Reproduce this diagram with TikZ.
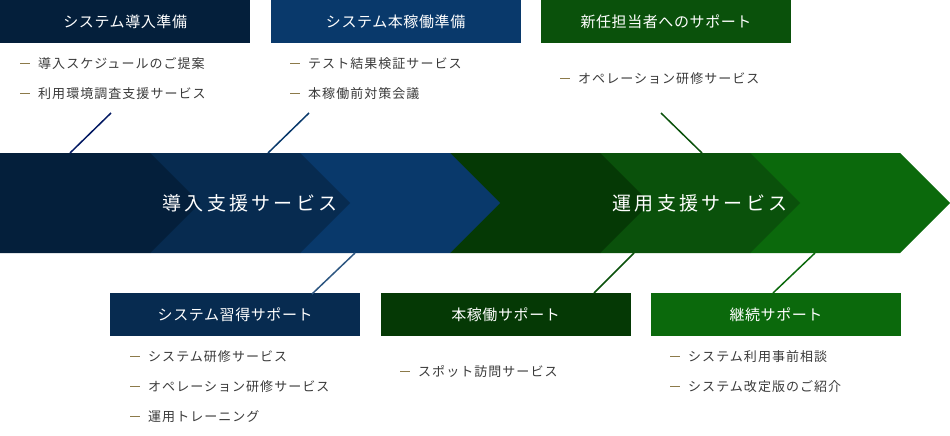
\documentclass[tikz,border=0pt]{standalone}
\usepackage{fontspec}
\setmainfont{Noto Sans CJK JP}
\newfontfamily\bandfont[LetterSpace=17]{Noto Sans CJK JP}
\newfontfamily\titlefont[LetterSpace=4]{Noto Sans CJK JP}
\newfontfamily\itemfont[LetterSpace=8]{Noto Sans CJK JP}
\usetikzlibrary{positioning}
\definecolor{svnavy}{RGB}{4,31,59}
\definecolor{svnavymid}{RGB}{7,43,80}
\definecolor{svblue}{RGB}{9,57,107}
\definecolor{svgreendark}{RGB}{5,57,5}
\definecolor{svgreenmid}{RGB}{10,81,11}
\definecolor{svgreen}{RGB}{11,105,12}
\definecolor{svgold}{RGB}{140,122,74}
\definecolor{svtext}{RGB}{58,58,58}
\newcommand{\svitem}[1]{\textcolor{svgold}{\rule[4.6pt]{10pt}{0.9pt}}\hspace{8pt}#1}

\begin{document}
\begin{tikzpicture}[x=1pt,y=-1pt,
        title/.style={minimum width=250pt,minimum height=43pt,inner sep=0pt,
          text=white,font=\titlefont\fontsize{15}{15}\selectfont},
        item/.style={anchor=west,inner sep=0pt,text=svtext,
          font=\itemfont\fontsize{13}{14}\selectfont},
        bandtext/.style={text=white,inner sep=0pt,
          font=\bandfont\fontsize{19}{20}\selectfont},
        link/.style={line width=1.5pt}]
        \useasboundingbox (0,0) rectangle (950,436);

        % Chevron band, drawn right to left so each tip covers the next.
        \foreach \i/\col in {5/svgreen,4/svgreenmid,3/svgreendark,
            2/svblue,1/svnavymid,0/svnavy}
          \fill[\col] (150*\i,153) -- ++(150,0) -- ++(50,50)
            -- ++(-50,50) -- ++(-150,0) -- cycle;
        \node[bandtext] (introsvc) at (250,203) {導入支援サービス};
        \node[bandtext] (opsvc) at (700,203) {運用支援サービス};

        % Upper phases.
        \node[title,fill=svnavy,anchor=north west] (prep) at (0,0)
          {システム導入準備};
        \node[title,fill=svblue,right=20pt of prep] (golive)
          {システム本稼働準備};
        \node[title,fill=svgreenmid,right=20pt of golive] (newstaff)
          {新任担当者へのサポート};
        \node[item] (prep1) at (20,64) {\svitem{導入スケジュールのご提案}};
        \node[item] (prep2) at (20,94) {\svitem{利用環境調査支援サービス}};
        \node[item] (golive1) at (290,64) {\svitem{テスト結果検証サービス}};
        \node[item] (golive2) at (290,94) {\svitem{本稼働前対策会議}};
        \node[item] (newstaff1) at (560,79) {\svitem{オペレーション研修サービス}};

        % Lower phases.
        \node[title,fill=svnavymid,anchor=north west] (learn) at (110,293)
          {システム習得サポート};
        \node[title,fill=svgreendark,right=20pt of learn] (stable)
          {本稼働サポート};
        \node[title,fill=svgreen,right=20pt of stable] (keep)
          {継続サポート};
        \node[item] (learn1) at (130,357) {\svitem{システム研修サービス}};
        \node[item] (learn2) at (130,387) {\svitem{オペレーション研修サービス}};
        \node[item] (learn3) at (130,417) {\svitem{運用トレーニング}};
        \node[item] (stable1) at (400,372) {\svitem{スポット訪問サービス}};
        \node[item] (keep1) at (670,357) {\svitem{システム利用事前相談}};
        \node[item] (keep2) at (670,387) {\svitem{システム改定版のご紹介}};

        % Leaders between the lists and the band.
        \coordinate (prepfoot) at (111,113);
        \coordinate (prepjoin) at (70,153);
        \coordinate (golivefoot) at (309,113);
        \coordinate (golivejoin) at (268,153);
        \coordinate (newstafffoot) at (661,113);
        \coordinate (newstaffjoin) at (702,153);
        \coordinate (learnjoin) at (355,253);
        \coordinate (learnhead) at (312,294);
        \coordinate (stablejoin) at (634,253);
        \coordinate (stablehead) at (594,293);
        \coordinate (keepjoin) at (815,253);
        \coordinate (keephead) at (773,293);
        \draw[link,svnavy!80!blue] (prepfoot) -- (prepjoin);
        \draw[link,svblue] (golivefoot) -- (golivejoin);
        \draw[link,svgreenmid] (newstafffoot) -- (newstaffjoin);
        \draw[link,svblue!85!white] (learnjoin) -- (learnhead);
        \draw[link,svgreenmid] (stablejoin) -- (stablehead);
        \draw[link,svgreen] (keepjoin) -- (keephead);
      \end{tikzpicture}
\end{document}
